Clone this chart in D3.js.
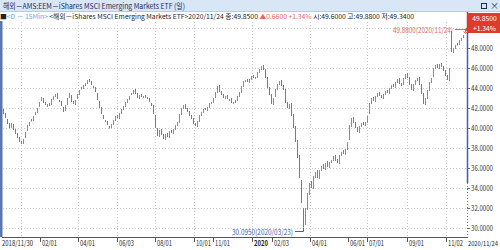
<!DOCTYPE html>
<html>
<head>
<meta charset="utf-8">
<script src="https://cdn.jsdelivr.net/npm/d3@7"></script>
<style>
  body { margin: 0; background: #fff; }
  svg { display: block; }
  text { font-family: "Noto Sans CJK KR", "Noto Sans", sans-serif; }
</style>
</head>
<body>
<script>
/* global d3 */

// two-day candles, 2018/11/30 .. 2020/11/24
const opens = [
  41.9, 41.5, 40.9, 40.5, 40.0, 40.4, 39.9, 39.5, 39.1, 38.7,
  38.4, 39.0, 39.7, 40.2, 40.9, 40.7, 41.3, 41.5, 42.1, 42.7,
  43.0, 42.6, 42.1, 42.5, 42.3, 42.8, 43.1, 43.5, 42.8, 42.7,
  42.1, 41.7, 42.3, 43.0, 43.3, 42.7, 42.3, 42.9, 43.3, 44.1,
  43.9, 44.2, 44.4, 44.9, 44.7, 44.2, 44.1, 43.5, 42.7, 42.1,
  41.3, 40.8, 40.7, 40.2, 40.0, 40.3, 40.7, 41.3, 40.9, 41.4,
  41.8, 42.1, 42.5, 42.8, 43.3, 43.4, 43.9, 43.5, 42.9, 43.4,
  43.0, 43.3, 43.1, 43.0, 42.5, 42.3, 41.3, 40.0, 39.1, 39.9,
  39.4, 38.8, 39.5, 39.0, 39.8, 39.4, 39.8, 40.2, 40.5, 41.3,
  41.9, 42.4, 42.0, 41.7, 41.3, 41.0, 40.5, 40.1, 40.6, 41.2,
  41.5, 42.0, 41.7, 42.0, 42.4, 42.5, 43.0, 43.5, 44.3, 43.7,
  43.4, 42.9, 43.3, 42.7, 43.0, 42.4, 42.5, 42.7, 43.1, 43.5,
  44.1, 44.6, 44.9, 44.5, 44.8, 45.3, 44.9, 45.0, 45.5, 45.8,
  46.3, 45.9, 45.1, 44.1, 43.4, 42.3, 43.1, 43.8, 44.3, 44.8,
  44.3, 43.9, 42.6, 41.9, 42.5, 41.4, 40.2, 38.8, 37.3, 34.8,
  32.0, 30.3, 31.8, 33.3, 34.7, 33.9, 35.0, 35.8, 34.9, 35.7,
  36.4, 35.8, 36.7, 36.0, 36.5, 36.7, 37.3, 36.9, 36.4, 37.2,
  37.8, 37.3, 37.8, 38.8, 40.1, 41.1, 40.6, 40.1, 39.5, 40.1,
  40.6, 40.2, 40.5, 41.4, 42.4, 43.1, 42.6, 43.1, 43.6, 43.3,
  42.9, 43.3, 43.8, 43.4, 43.9, 44.4, 44.0, 44.5, 45.0, 44.5,
  44.3, 44.9, 45.5, 45.1, 44.4, 43.7, 44.3, 44.7, 45.1, 44.4,
  43.5, 42.3, 42.9, 43.7, 44.5, 45.1, 45.9, 46.4, 45.9, 46.5,
  46.2, 45.8, 45.3, 44.7, 49.7, 47.5, 47.9, 48.5, 48.3, 48.7,
  49.0, 49.6
]

const closes = [
  41.4, 41.0, 40.4, 40.0, 40.5, 39.8, 39.4, 39.0, 38.6, 38.4,
  38.9, 39.6, 40.3, 40.6, 40.8, 41.2, 41.6, 42.0, 42.6, 43.1,
  42.5, 42.3, 42.4, 42.2, 42.9, 43.2, 43.4, 42.9, 42.6, 42.2,
  41.6, 42.3, 43.0, 43.5, 42.6, 42.4, 42.8, 43.4, 43.8, 44.0,
  44.3, 44.5, 44.8, 44.6, 44.3, 44.0, 43.6, 42.8, 42.0, 41.4,
  40.9, 40.6, 40.3, 40.1, 40.4, 40.8, 41.2, 41.0, 41.5, 41.9,
  42.2, 42.6, 42.9, 43.2, 43.5, 43.8, 43.4, 43.0, 43.3, 43.1,
  43.2, 43.0, 42.9, 42.6, 42.2, 41.4, 40.0, 39.2, 39.8, 39.3,
  38.9, 39.4, 39.1, 39.7, 39.5, 39.9, 40.3, 40.6, 41.4, 42.0,
  42.3, 41.9, 41.6, 41.2, 40.9, 40.4, 40.2, 40.7, 41.3, 41.6,
  41.9, 41.8, 42.1, 42.5, 42.6, 43.0, 43.6, 44.2, 43.6, 43.3,
  43.0, 43.2, 42.9, 42.9, 42.5, 42.6, 42.8, 43.2, 43.6, 44.2,
  44.7, 44.8, 44.6, 44.9, 45.2, 45.0, 45.1, 45.6, 45.9, 46.2,
  45.8, 45.0, 44.0, 43.3, 42.4, 43.0, 43.9, 44.4, 44.7, 44.2,
  43.8, 42.5, 42.0, 42.4, 41.2, 40.0, 38.6, 37.0, 35.0, 32.5,
  30.1, 32.0, 33.5, 34.5, 34.0, 35.2, 35.6, 35.0, 35.8, 36.2,
  35.9, 36.5, 36.1, 36.6, 36.8, 37.2, 36.7, 36.5, 37.3, 37.6,
  37.4, 37.9, 38.6, 40.3, 41.0, 40.5, 40.0, 39.6, 40.2, 40.5,
  40.3, 40.6, 41.2, 42.5, 43.0, 42.7, 43.2, 43.5, 43.2, 43.0,
  43.4, 43.7, 43.5, 44.0, 44.3, 44.1, 44.6, 44.9, 44.4, 44.2,
  45.0, 45.4, 45.0, 44.3, 43.8, 44.4, 44.8, 45.0, 44.3, 43.4,
  42.4, 43.0, 43.8, 44.6, 45.0, 46.0, 46.3, 46.0, 46.4, 46.1,
  45.7, 45.2, 44.8, 46.0, 47.6, 48.0, 48.3, 48.4, 48.8, 49.0,
  49.3, 49.85
]

// date axis (position = candle index)
const tickIdx = [18.5, 37.5, 57, 76, 95.5, 105, 124.5, 134.5, 153.5, 172.5, 182, 202, 221.5]
const tickLabels = ['02/01', '04/01', '06/03', '08/01', '10/01', '11/01', '2020', '02/03', '04/01', '06/01', '07/01', '09/01', '11/02']
const gridIdx = [9, 37.5, 57, 76, 95.5, 124.5, 153.5, 182, 202, 221.5]
const priceTicks = [30, 32, 34, 36, 38, 40, 42, 44, 46, 48]

const lastPrice = 49.85
const highPrice = 49.88
const lowPrice = 30.095
const lowIdx = 150

const W = 500, H = 250
const svg = d3.select('body').append('svg').attr('width', W).attr('height', H)

const x = d3.scaleLinear().domain([0, closes.length - 1]).range([3, 465])
const y = d3.scaleLinear().domain([30, 48]).range([228, 48])
const px = v => Math.round(x(v)) + 0.5

const RED = '#e5675d', BLUE = '#5a7ebf'

// title bar
svg.append('rect').attr('x', 0).attr('y', 0).attr('width', W).attr('height', 11).attr('fill', '#d8e6f6')
svg.append('line').attr('x1', 0).attr('x2', W).attr('y1', 11.5).attr('y2', 11.5).attr('stroke', '#b8cce4')
svg.append('text').attr('x', 3).attr('y', 8.5).attr('font-size', 7.5).attr('fill', '#1d2c5c')
  .attr('textLength', 182).attr('lengthAdjust', 'spacingAndGlyphs')
  .text('해외－AMS:EEM－iShares MSCI Emerging Markets ETF (일)')
svg.append('rect').attr('x', 481.5).attr('y', 3.5).attr('width', 5).attr('height', 5).attr('fill', 'none').attr('stroke', '#1d2c5c')
svg.append('text').attr('x', 490).attr('y', 9).attr('font-size', 9).attr('fill', '#1d2c5c').text('×')

// info line, one text with coloured pieces
const info = [
  { t: '■', c: '#222' },
  { t: '<D － 15Min> ', c: '#6aa6e6' },
  { t: '<해외－iShares MSCI Emerging Markets ETF>2020/11/24 종:49.8500 ', c: '#222' },
  { t: '▲0.6600  +1.34% ', c: RED },
  { t: '시:49.6000 고:49.8800 저:49.3400', c: '#222' }
]
svg.append('text').attr('x', 0).attr('y', 19).attr('font-size', 6.6)
  .attr('textLength', 414).attr('lengthAdjust', 'spacingAndGlyphs')
  .selectAll('tspan').data(info).enter().append('tspan')
  .attr('fill', d => d.c).text(d => d.t)

// grid
svg.selectAll('line.hg').data(priceTicks.concat([50])).enter().append('line').attr('class', 'hg')
  .attr('x1', 3).attr('x2', 467).attr('y1', d => Math.round(y(d)) + 0.5).attr('y2', d => Math.round(y(d)) + 0.5)
  .attr('stroke', '#c9c9c9').attr('stroke-dasharray', '1,2')
svg.selectAll('line.vg').data(gridIdx).enter().append('line').attr('class', 'vg')
  .attr('x1', px).attr('x2', px).attr('y1', 22).attr('y2', 237)
  .attr('stroke', '#c9c9c9').attr('stroke-dasharray', '1,2')

// left border
svg.append('rect').attr('x', 0).attr('y', 21).attr('width', 2.5).attr('height', 216).attr('fill', '#5777b0')

// candles
const idx = d3.range(closes.length)
svg.append('g').selectAll('line').data(idx).enter().append('line')
  .attr('x1', px).attr('x2', px)
  .attr('y1', i => y(opens[i])).attr('y2', i => y(closes[i]) + (Math.abs(opens[i] - closes[i]) < 0.15 ? 1.5 : 0))
  .attr('stroke', i => closes[i] >= opens[i] ? RED : BLUE)
  .attr('stroke-width', 1)

// right price axis
const ax = 467.5
svg.append('line').attr('x1', ax).attr('x2', ax).attr('y1', 12).attr('y2', y(lastPrice)).attr('stroke', '#d8372c').attr('stroke-width', 1.5)
svg.append('line').attr('x1', ax).attr('x2', ax).attr('y1', y(lastPrice)).attr('y2', y(34.5)).attr('stroke', '#3e62a8').attr('stroke-width', 1.5)
svg.append('line').attr('x1', ax).attr('x2', ax).attr('y1', y(34.5)).attr('y2', 237).attr('stroke', '#777').attr('stroke-dasharray', '1,2')

const yt = svg.append('g')
yt.selectAll('line').data(priceTicks).enter().append('line')
  .attr('x1', 467).attr('x2', 470).attr('y1', d => Math.round(y(d)) + 0.5).attr('y2', d => Math.round(y(d)) + 0.5)
  .attr('stroke', '#666')
yt.selectAll('text').data(priceTicks).enter().append('text')
  .attr('x', 471).attr('y', d => y(d) + 3).attr('font-size', 7.5).attr('fill', '#333')
  .attr('textLength', 22).attr('lengthAdjust', 'spacingAndGlyphs')
  .text(d => d3.format('.4f')(d))

// current price box
const by = 13
svg.append('path')
  .attr('d', `M468,${by}H500V${by + 20}H468V${y(lastPrice) + 3}L465,${y(lastPrice)}L468,${y(lastPrice) - 3}Z`)
  .attr('fill', '#dc3b2e')
svg.append('text').attr('x', 484.5).attr('y', by + 8).attr('text-anchor', 'middle').attr('font-size', 6.8).attr('fill', '#fff').text('49.8500')
svg.append('text').attr('x', 484.5).attr('y', by + 17.5).attr('text-anchor', 'middle').attr('font-size', 6.8).attr('fill', '#fff').text('+1.34%')

// high annotation
const hy = Math.round(y(highPrice)) + 0.5
const hx = px(closes.length - 1)
svg.append('text').attr('x', 393).attr('y', hy + 3).attr('font-size', 7.5).attr('fill', RED)
  .attr('textLength', 60).attr('lengthAdjust', 'spacingAndGlyphs')
  .text(`${d3.format('.4f')(highPrice)}(2020/11/24)`)
svg.append('path').attr('d', `M455,${hy}H${hx}V${hy + 3}`).attr('fill', 'none').attr('stroke', RED)
svg.append('path').attr('d', `M${hx - 2},${hy + 2}L${hx},${hy + 4}L${hx + 2},${hy + 2}`).attr('fill', 'none').attr('stroke', RED)

// low annotation
const ly = Math.round(y(lowPrice)) + 4.5
const lx = px(lowIdx)
svg.append('text').attr('x', 232).attr('y', ly + 3).attr('font-size', 7.5).attr('fill', '#3e62a8')
  .attr('textLength', 61).attr('lengthAdjust', 'spacingAndGlyphs')
  .text(`${d3.format('.4f')(lowPrice)}(2020/03/23)`)
svg.append('path').attr('d', `M295,${ly}H${lx}V${ly - 4}`).attr('fill', 'none').attr('stroke', '#3e62a8')

// date axis
svg.append('line').attr('x1', 2).attr('x2', 468).attr('y1', 237.5).attr('y2', 237.5).attr('stroke', '#555')
const xt = svg.append('g')
xt.selectAll('line').data(tickIdx).enter().append('line')
  .attr('x1', px).attr('x2', px).attr('y1', 237).attr('y2', 242).attr('stroke', '#555')
xt.selectAll('text').data(tickLabels).enter().append('text')
  .attr('x', (d, i) => px(tickIdx[i]) + 1.5).attr('y', 245.5).attr('font-size', 7.5).attr('fill', '#222')
  .attr('font-weight', d => d.length === 4 ? 'bold' : null)
  .attr('textLength', d => d.length === 4 ? 14 : 15).attr('lengthAdjust', 'spacingAndGlyphs')
  .text(d => d)
svg.append('text').attr('x', 2).attr('y', 245.5).attr('font-size', 7.5).attr('fill', '#222')
  .attr('textLength', 31).attr('lengthAdjust', 'spacingAndGlyphs').text('2018/11/30')
svg.append('text').attr('x', 468).attr('y', 245.5).attr('font-size', 6.3).attr('fill', '#222')
  .attr('textLength', 30).attr('lengthAdjust', 'spacingAndGlyphs').text('2020/11/24')
</script>
</body>
</html>
